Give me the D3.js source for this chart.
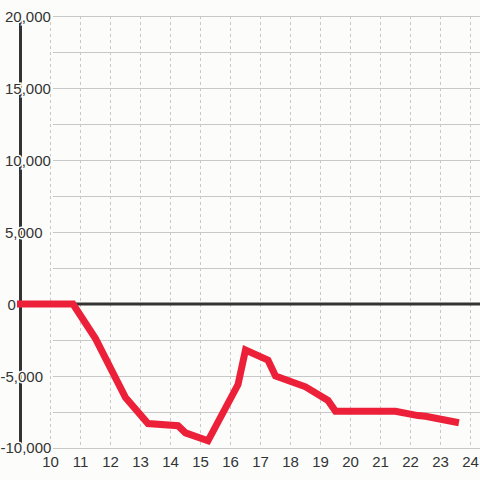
<!DOCTYPE html>
<html>
<head>
<meta charset="utf-8">
<script src="https://cdn.jsdelivr.net/npm/d3@7"></script>
<style>
  html, body { margin: 0; padding: 0; background: #fcfdfb; }
  svg { display: block; font-family: "Liberation Sans", Arial, sans-serif; }
  .tick-label { font-size: 15px; fill: #333; }
</style>
</head>
<body>
<svg id="chart" width="480" height="480"></svg>
<script>
// hours of the day and running balance
const hours = [9, 10.75, 11.5, 12.5, 13.25, 14.25, 14.5, 15.25, 16.25, 16.5, 17.25, 17.5, 18.5, 19.25, 19.5, 21.5, 22.25, 22.5, 23.5];
const balance = [0, 0, -2400, -6500, -8300, -8450, -8950, -9500, -5600, -3200, -3900, -5000, -5750, -6700, -7450, -7450, -7750, -7800, -8200];
const xTicks = [10, 11, 12, 13, 14, 15, 16, 17, 18, 19, 20, 21, 22, 23, 24];
const yTicks = [-10000, -5000, 0, 5000, 10000, 15000, 20000];
const yMinor = [-7500, -2500, 2500, 7500, 12500, 17500];

const bg = "#fcfdfb";
const svg = d3.select("#chart");

const x = d3.scaleLinear().domain([9, 24]).range([20.5, 470.5]);
const y = d3.scaleLinear().domain([-10000, 20000]).range([448, 16]);

const fmt = d3.format(",");

// horizontal grid
svg.append("g")
  .selectAll("line")
  .data(yTicks.concat(yMinor).filter((d) => d !== 0))
  .join("line")
  .attr("x1", 53)
  .attr("x2", 480)
  .attr("y1", (d) => Math.round(y(d)) + 0.5)
  .attr("y2", (d) => Math.round(y(d)) + 0.5)
  .attr("stroke", "#c8c8c8")
  .attr("stroke-width", 1);

// vertical dashed grid
svg.append("g")
  .selectAll("line")
  .data(xTicks)
  .join("line")
  .attr("x1", (d) => x(d))
  .attr("x2", (d) => x(d))
  .attr("y1", y(20000))
  .attr("y2", y(-10000))
  .attr("stroke", "#c8c8c8")
  .attr("stroke-width", 1)
  .attr("stroke-dasharray", "3,3");

// zero line
svg.append("line")
  .attr("x1", x(9))
  .attr("x2", 480)
  .attr("y1", y(0))
  .attr("y2", y(0))
  .attr("stroke", "#333")
  .attr("stroke-width", 3);

// y axis line
svg.append("line")
  .attr("x1", x(9))
  .attr("x2", x(9))
  .attr("y1", y(20000))
  .attr("y2", y(-10000))
  .attr("stroke", "#333")
  .attr("stroke-width", 3);

// y labels, with a halo that cuts the axis line
svg.append("g")
  .selectAll("text")
  .data(yTicks)
  .join("text")
  .attr("class", "tick-label")
  .attr("x", (d) => (d < 0 ? 0.5 : d === 0 ? 7.5 : 5))
  .attr("y", (d) => y(d))
  .attr("dy", (d) => (d === -10000 ? "0.3em" : "0.42em"))
  .attr("stroke", bg)
  .attr("stroke-width", 3)
  .attr("paint-order", "stroke")
  .text((d) => fmt(d).replace("\u2212", "-"));

// x labels
svg.append("g")
  .selectAll("text")
  .data(xTicks)
  .join("text")
  .attr("class", "tick-label")
  .attr("x", (d) => x(d))
  .attr("y", 467)
  .attr("text-anchor", "middle")
  .text((d) => d);

// balance line
const line = d3.line()
  .x((d, i) => x(hours[i]))
  .y((d) => y(d));

svg.append("path")
  .datum(balance)
  .attr("fill", "none")
  .attr("stroke", "#ec2139")
  .attr("stroke-width", 7)
  .attr("stroke-linecap", "square")
  .attr("stroke-linejoin", "miter")
  .attr("d", line);
</script>
</body>
</html>
